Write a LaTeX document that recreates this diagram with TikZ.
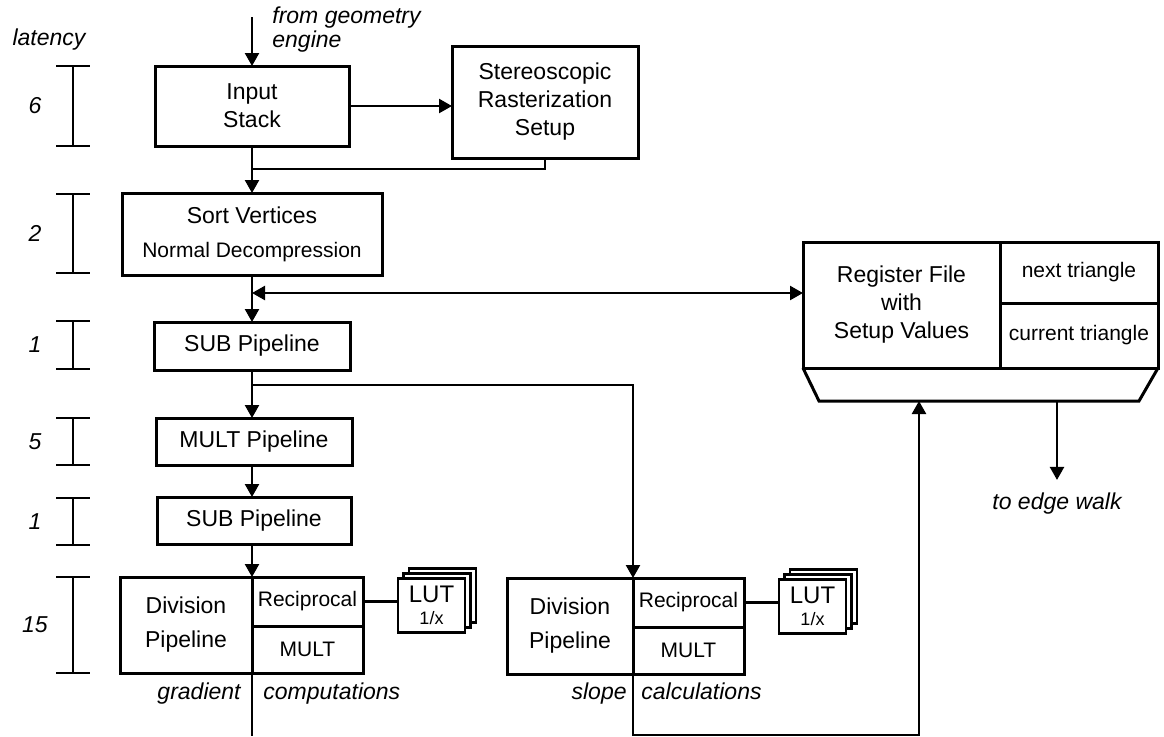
\documentclass[tikz,border=0pt]{standalone}
\usepackage{fontspec}
\setmainfont{Liberation Sans}
\usepackage{tikz}
\usetikzlibrary{arrows.meta,calc}
\usetikzlibrary{positioning}

\begin{document}
\begin{tikzpicture}[x=0.5pt,y=-0.5pt,
        block/.style={draw=black, fill=white, line width=1.5pt, inner sep=0pt, outer sep=0pt, align=center, font=\fontsize{11.5}{14}\selectfont},
        cell/.style={block, font=\fontsize{10.5}{14}\selectfont},
        lutpage/.style={draw=black, fill=white, line width=1.3pt, inner sep=0pt, outer sep=0pt, minimum width=33.5pt, minimum height=27pt},
        tag/.style={inner sep=0pt, font=\fontsize{11.5}{12}\selectfont\itshape},
        wire/.style={line width=1.2pt},
        tick/.style={line width=0.8pt},
        >={Triangle[length=6.5pt,width=7pt]}
        ]
    \fill[white] (0,0) rectangle (1164,736);
    \useasboundingbox (0,0) rectangle (1164,736);

    % latency scale on the left
    \node[tag] (latency) at (49,40) {latency};
    \foreach \lat/\ya/\yb in {6/66/146, 2/194/273, 1/321/369, 5/418/465, 1/498/545, 15/577/673} {
        \draw[tick] (56,\ya) -- (90,\ya) (73,\ya) -- (73,\yb) (56,\yb) -- (90,\yb);
        \node[tag] (lat\ya) at (35,{(\ya+\yb)/2}) {\lat};
    }

    % setup pipeline
    \node[block, minimum width=97pt, minimum height=40pt] (input) at (252,106) {Input\\Stack};
    \node[block, minimum width=93pt, minimum height=56pt] (stereo) at (545,102) {Stereoscopic\\Rasterization\\Setup};
    \node[block, minimum width=130pt, minimum height=41pt] (sort) at (252,234)
        {Sort Vertices\\[3pt]{\fontsize{10.5}{12}\selectfont Normal Decompression}};
    \node[block, minimum width=98pt, minimum height=24pt] (sub1) at (252,346) {SUB Pipeline};
    \node[block, minimum width=98pt, minimum height=23.5pt] (mult) at (254,441.5) {MULT Pipeline};
    \node[block, minimum width=97pt, minimum height=23.5pt] (sub2) at (254,520.5) {SUB Pipeline};

    % the two division pipelines with their lookup tables
    \node[block, minimum width=66pt, minimum height=48pt] (div1) at (186,625) {Division\\[3pt]Pipeline};
    \node[block, minimum width=63pt, minimum height=48pt] (div2) at (570,626) {Division\\[3pt]Pipeline};
    \foreach \d in {1,2} {
        \node[cell, minimum width=55.5pt, minimum height=24.5pt, anchor=north west] (rec\d) at (div\d.north east) {Reciprocal};
        \node[cell, minimum width=55.5pt, minimum height=23.5pt, anchor=north west] (mul\d) at (rec\d.south west) {MULT};
        \path (rec\d.east) ++(68.5,4) coordinate (lut\d c);
        \foreach \k in {2,1}
            \node[lutpage] (lut\d p\k) at ($(lut\d c)+(5.5*\k,-5*\k)$) {};
        \node[lutpage, align=center, font=\fontsize{12}{11}\selectfont] (lut\d) at (lut\d c)
            {LUT\\{\fontsize{9}{9}\selectfont 1/x}};
        \draw[wire] (rec\d.east) -- (rec\d.east -| lut\d.west);
    }

    % register file and output mux
    \node[block, minimum width=98.5pt, minimum height=63pt] (reg) at (901.5,305) {Register File\\with\\Setup Values};
    \node[cell, minimum width=79pt, minimum height=30.5pt, anchor=north west] (next) at (reg.north east) {next triangle};
    \node[cell, minimum width=79pt, minimum height=32.5pt, anchor=north west] (cur) at (next.south west) {current triangle};
    \coordinate (muxbl) at ($(reg.south west)+(16,33)$);
    \coordinate (muxbr) at ($(cur.south east)+(-19,33)$);
    \draw[line width=1.5pt] (reg.south west) -- (muxbl) -- (muxbr) -- (cur.south east);
    \coordinate (muxin) at (muxbl -| 919,0);
    \coordinate (muxout) at (muxbl -| 1057,0);
    \node[tag, anchor=base] (edgewalk) at (1057,509) {to edge walk};

    % labels
    \node[tag, anchor=north west, align=left] (geo) at (272,6) {from geometry\\engine};
    \node[tag, anchor=base east] (gradlbl) at (241,699) {gradient};
    \node[tag, anchor=base west] (complbl) at (263,699) {computations};
    \node[tag, anchor=base east] (slopelbl) at (627,699) {slope};
    \node[tag, anchor=base west] (calclbl) at (641,699) {calculations};

    % connections
    \coordinate (feed) at (252,17);
    \coordinate (merge) at (252,169);
    \coordinate (tap) at (252,293);
    \coordinate (fork) at (252,385);
    \coordinate (gradout) at (252,736);
    \coordinate (slopeout) at (633,735);
    \draw[wire,->] (feed) -- (input.north);
    \draw[wire,->] (input.east) -- (input.east -| stereo.west);
    \draw[wire] (stereo.south) |- (merge);
    \draw[wire,->] (input.south) -- (sort.north);
    \draw[wire,->] (sort.south) -- (sub1.north);
    \draw[wire,<->] (tap) -- (tap -| reg.west);
    \draw[wire,->] (sub1.south) -- (sub1.south |- mult.north);
    \draw[wire,->] (fork) -| (rec2.north west);
    \draw[wire,->] (mult.south -| sub1.south) -- (sub1.south |- sub2.north);
    \draw[wire,->] (sub2.south -| sub1.south) -- (rec1.north west);
    \draw[wire] (mul1.south west) -- (gradout);
    \draw[wire,->] (mul2.south west) -- (slopeout) -| (muxin);
    \draw[wire,->] (muxout) -- ([yshift=6pt]muxout |- edgewalk.north);
\end{tikzpicture}
\end{document}
